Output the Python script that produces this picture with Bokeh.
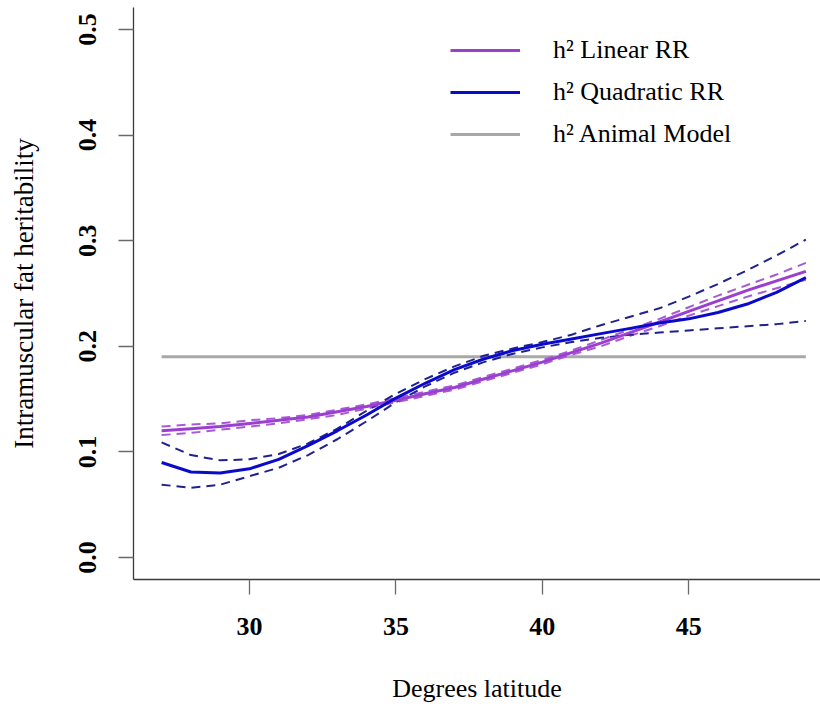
from bokeh.plotting import figure
from bokeh.models import Range1d, FixedTicker, Legend, LegendItem
from bokeh.embed import file_html
from bokeh.resources import INLINE

# Latitude grid (degrees)
latitude = [27, 28, 29, 30, 31, 32, 33, 34, 35, 36, 37, 38,
            39, 40, 41, 42, 43, 44, 45, 46, 47, 48, 49]

# Heritability from the linear random regression, with its bounds
h2_linear = [0.120, 0.122, 0.124, 0.127, 0.130, 0.133, 0.138, 0.143, 0.149, 0.155, 0.161, 0.169,
             0.177, 0.185, 0.194, 0.203, 0.213, 0.223, 0.233, 0.243, 0.253, 0.262, 0.271]
h2_linear_upper = [0.124, 0.126, 0.127, 0.130, 0.132, 0.135, 0.140, 0.145, 0.151, 0.157, 0.163, 0.171,
                   0.179, 0.187, 0.196, 0.206, 0.216, 0.226, 0.237, 0.248, 0.258, 0.268, 0.279]
h2_linear_lower = [0.116, 0.118, 0.121, 0.124, 0.127, 0.131, 0.135, 0.141, 0.147, 0.153, 0.159, 0.167,
                   0.175, 0.183, 0.192, 0.200, 0.210, 0.219, 0.229, 0.238, 0.247, 0.255, 0.263]

# Heritability from the quadratic random regression, with its bounds
h2_quad = [0.090, 0.081, 0.080, 0.084, 0.093, 0.106, 0.120, 0.135, 0.151, 0.165, 0.178, 0.188,
           0.196, 0.202, 0.207, 0.212, 0.217, 0.222, 0.226, 0.232, 0.240, 0.251, 0.265]
h2_quad_upper = [0.109, 0.097, 0.092, 0.093, 0.098, 0.108, 0.122, 0.139, 0.155, 0.169, 0.181, 0.191,
                 0.198, 0.204, 0.211, 0.220, 0.228, 0.236, 0.247, 0.259, 0.272, 0.286, 0.301]
h2_quad_lower = [0.069, 0.066, 0.069, 0.077, 0.085, 0.097, 0.112, 0.129, 0.147, 0.162, 0.175, 0.185,
                 0.193, 0.199, 0.204, 0.208, 0.211, 0.213, 0.215, 0.217, 0.219, 0.221, 0.224]

# Constant heritability from the animal model
h2_animal = 0.19
animal_x = [27, 49]

x_ticks = [30, 35, 40, 45]
y_ticks = [0.0, 0.1, 0.2, 0.3, 0.4, 0.5]

PURPLE = "#9b3fd0"
PURPLE_CI = "#a65ad6"
BLUE = "#0a0acb"
BLUE_CI = "#202090"
GREY = "#a8a8a8"
SERIF = "Liberation Serif"

p = figure(width=820, height=706, output_backend="svg", toolbar_location=None,
           x_range=Range1d(26.04, 49.50), y_range=Range1d(-0.0208, 0.5208),
           min_border_left=133, min_border_bottom=127, min_border_top=7, min_border_right=0)

p.outline_line_color = None
p.grid.grid_line_color = None
p.background_fill_color = "white"
p.border_fill_color = "white"

# Axes
p.xaxis.ticker = FixedTicker(ticks=x_ticks)
p.yaxis.ticker = FixedTicker(ticks=y_ticks)
p.xaxis.major_label_overrides = {30: "30", 35: "35", 40: "40", 45: "45"}
p.yaxis.major_label_overrides = {0.0: "0.0", 0.1: "0.1", 0.2: "0.2", 0.3: "0.3", 0.4: "0.4", 0.5: "0.5"}
for ax in (p.xaxis, p.yaxis):
    ax.axis_line_color = "#3a3a3a"
    ax.axis_line_width = 1.3
    ax.major_tick_line_color = "#6a6a6a"
    ax.major_tick_line_width = 1.3
    ax.major_tick_out = 15
    ax.major_tick_in = 0
    ax.minor_tick_line_color = None
    ax.major_label_text_font = SERIF
    ax.major_label_text_font_style = "bold"
    ax.major_label_text_font_size = "26px"
    ax.major_label_text_color = "black"
    ax.axis_label_text_font = SERIF
    ax.axis_label_text_font_style = "normal"
    ax.axis_label_text_color = "black"

p.xaxis.axis_label = "Degrees latitude"
p.xaxis.axis_label_text_font_size = "26px"
p.xaxis.major_label_standoff = 23
p.xaxis.axis_label_standoff = 36
p.yaxis.axis_label = "Intramuscular fat heritability"
p.yaxis.axis_label_text_font_size = "27px"
p.yaxis.major_label_orientation = "vertical"
p.yaxis.major_label_standoff = 22
p.yaxis.axis_label_standoff = 38

# Animal model reference line
r_animal = p.line(animal_x, [h2_animal, h2_animal], line_color=GREY, line_width=3)

# Bounds (dashed)
p.line(latitude, h2_linear_upper, line_color=PURPLE_CI, line_width=2, line_dash="9 6")
p.line(latitude, h2_linear_lower, line_color=PURPLE_CI, line_width=2, line_dash="9 6")
p.line(latitude, h2_quad_upper, line_color=BLUE_CI, line_width=2, line_dash="9 6")
p.line(latitude, h2_quad_lower, line_color=BLUE_CI, line_width=2, line_dash="9 6")

# Estimates (solid)
r_lin = p.line(latitude, h2_linear, line_color=PURPLE, line_width=3)
r_quad = p.line(latitude, h2_quad, line_color=BLUE, line_width=3)

legend = Legend(
    items=[LegendItem(label="h² Linear RR", renderers=[r_lin]),
           LegendItem(label="h² Quadratic RR", renderers=[r_quad]),
           LegendItem(label="h² Animal Model", renderers=[r_animal])],
    location=(317, 424),
    border_line_color=None, background_fill_alpha=0,
    label_text_font=SERIF, label_text_font_size="26px", label_text_color="black",
    glyph_width=70, glyph_height=42, label_height=42, label_standoff=33,
    spacing=0, padding=0, margin=0,
)
p.add_layout(legend, "center")

open("out.html", "w").write(file_html(p, INLINE))
